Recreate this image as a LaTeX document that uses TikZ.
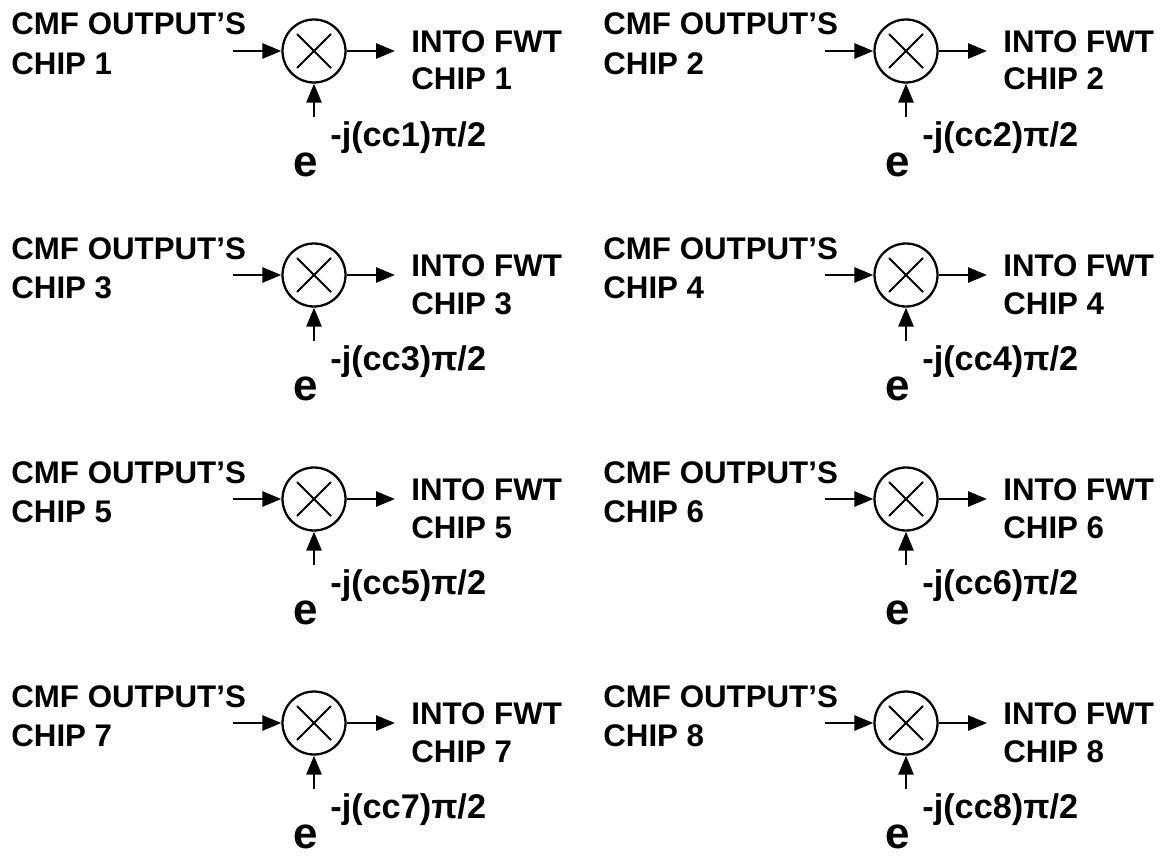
\documentclass[tikz,border=0pt]{standalone}
\usepackage{fontspec}
\setmainfont{Liberation Sans}
\usetikzlibrary{arrows.meta}

\begin{document}
\begin{tikzpicture}[x=0.02cm,y=-0.02cm,
  font=\fontsize{17.8}{22}\selectfont\bfseries,
  txt/.style={anchor=base west,inner sep=0pt},
  mult/.style={draw,circle,line width=1.3pt,minimum size=1.26cm,inner sep=0pt},
  sig/.style={line width=1.6pt,-{Triangle[length=0.38cm,width=0.3cm]}}]
  \useasboundingbox (0,0) rectangle (1168,855);
  \foreach \n in {1,...,8}{
    \pgfmathtruncatemacro\col{mod(\n-1,2)}
    \pgfmathtruncatemacro\row{(\n-1)/2}
    \begin{scope}[shift={(592*\col,224*\row)}]
      % multiplier
      \node[mult] (m\n) at (314,51) {};
      \draw[line width=1.1pt] ([shift={(-17,-17)}]m\n.center) -- ([shift={(17,17)}]m\n.center);
      \draw[line width=1.1pt] ([shift={(-17,17)}]m\n.center) -- ([shift={(17,-17)}]m\n.center);
      \coordinate (src\n) at (233,51);
      \coordinate (dst\n) at (395,51);
      \coordinate (ph\n) at (314,117);
      % labels
      \node[txt] (cmf\n) at (11,35) {CMF OUTPUT’S};
      \node[txt] (chipin\n) at (11,74) {CHIP \n};
      \node[txt] (fwt\n) at (411,52) {INTO FWT};
      \node[txt] (chipout\n) at (411,90) {CHIP \n};
      \node[txt,font=\fontsize{19.5}{22}\selectfont\bfseries] (exp\n) at (330,146) {-j(cc\n)π/2};
      \node[txt,font=\fontsize{25}{28}\selectfont\bfseries] (e\n) at (293,176) {e};
      % signals
      \draw[sig] (src\n) -- (m\n);
      \draw[sig] (m\n) -- (dst\n);
      \draw[sig] (ph\n) -- (m\n);
    \end{scope}
  }
\end{tikzpicture}
\end{document}
